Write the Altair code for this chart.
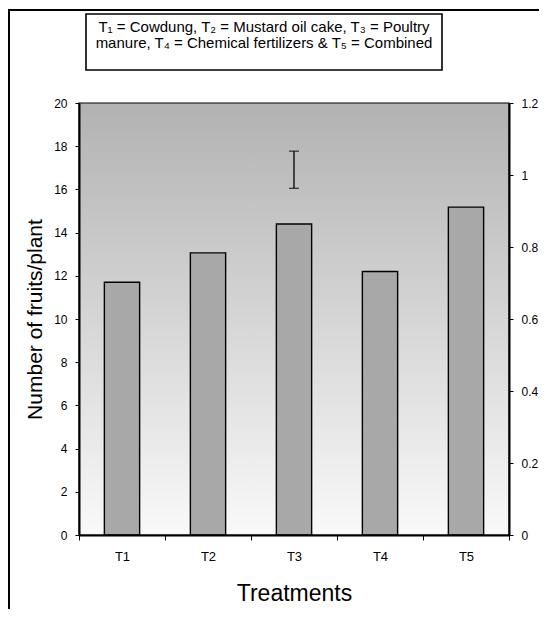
import altair as alt
import pandas as pd

# ---- data ----
treatments = ["T1", "T2", "T3", "T4", "T5"]
fruits = [11.7, 13.06, 14.4, 12.2, 15.18]
err_treat = ["T3"]
err_lo = [16.05]
err_hi = [17.77]
right_ticks = [0, 0.2, 0.4, 0.6, 0.8, 1.0, 1.2]
left_ticks = [0, 2, 4, 6, 8, 10, 12, 14, 16, 18, 20]
legend_line1 = "T\u2081 = Cowdung,  T\u2082 = Mustard oil cake,  T\u2083 = Poultry"
legend_line2 = "manure, T\u2084 = Chemical fertilizers & T\u2085 = Combined"

W, H = 430, 432
FONT = "Liberation Sans"

bars_df = pd.DataFrame({"Treatment": treatments, "Fruits": fruits})
err_df = pd.DataFrame({"Treatment": err_treat, "lo": err_lo, "hi": err_hi})
right_df = pd.DataFrame({"r": [right_ticks[0], right_ticks[-1]]})
one = pd.DataFrame({"k": [0]})

xscale = alt.Scale(domain=treatments, paddingInner=0, paddingOuter=0)
yscale = alt.Scale(domain=[0, 20], nice=False)

bg = alt.Chart(one).mark_rect(
    fill=alt.LinearGradient(
        gradient="linear",
        stops=[alt.GradientStop(color="#b2b2b2", offset=0),
               alt.GradientStop(color="#f9f9f9", offset=1)],
        x1=0, x2=0, y1=0, y2=1),
    stroke="black", strokeWidth=1.2,
).encode(x=alt.value(0), x2=alt.value(W), y=alt.value(0), y2=alt.value(H))

bars = alt.Chart(bars_df).mark_bar(
    fill="#a8a8a8", stroke="black", strokeWidth=1.4,
    width=alt.RelativeBandSize(0.41),
).encode(
    x=alt.X("Treatment:N", scale=xscale, sort=treatments,
            axis=alt.Axis(title="Treatments", tickBand="extent", labelAngle=0,
                          labelFont=FONT, labelFontSize=13, labelColor="black",
                          tickColor="black", tickSize=5, labelPadding=10,
                          domainColor="black", domainWidth=2, zindex=1,
                          titleFont=FONT, titleFontSize=23, titleFontWeight="normal",
                          titleColor="black", titleY=65, titleBaseline="alphabetic")),
    y=alt.Y("Fruits:Q", scale=yscale,
            axis=alt.Axis(title="Number of fruits/plant", values=left_ticks, grid=False,
                          labelFont=FONT, labelFontSize=12, labelColor="black",
                          tickColor="black", tickSize=4, labelPadding=8,
                          domainColor="black", domainWidth=2, zindex=1,
                          titleFont=FONT, titleFontSize=21, titleFontWeight="normal",
                          titleColor="black", titleAngle=-90, titleX=-38, titleY=H / 2,
                          titleAlign="center", titleBaseline="alphabetic")),
)

err_rule = alt.Chart(err_df).mark_rule(color="black", strokeWidth=1.3).encode(
    x=alt.X("Treatment:N", scale=xscale, sort=treatments),
    y=alt.Y("lo:Q", scale=yscale), y2="hi:Q")
err_lo_tick = alt.Chart(err_df).mark_tick(color="black", size=10, thickness=1.3).encode(
    x=alt.X("Treatment:N", scale=xscale, sort=treatments), y=alt.Y("lo:Q", scale=yscale))
err_hi_tick = alt.Chart(err_df).mark_tick(color="black", size=10, thickness=1.3).encode(
    x=alt.X("Treatment:N", scale=xscale, sort=treatments), y=alt.Y("hi:Q", scale=yscale))

# decorations: outer frame and the treatment key box
frame_top = alt.Chart(one).mark_rule(color="black", strokeWidth=2).encode(
    x=alt.value(-70), x2=alt.value(W + 60), y=alt.value(-93), y2=alt.value(-93))
frame_left = alt.Chart(one).mark_rule(color="black", strokeWidth=2).encode(
    x=alt.value(-70), x2=alt.value(-70), y=alt.value(-94), y2=alt.value(H + 100))
key_box = alt.Chart(one).mark_rect(fill="white", stroke="black", strokeWidth=1.6).encode(
    x=alt.value(7), x2=alt.value(363), y=alt.value(-89), y2=alt.value(-33))
key_text1 = alt.Chart(one).mark_text(
    font=FONT, fontSize=15, align="center", baseline="alphabetic", color="black",
).encode(x=alt.value(185), y=alt.value(-71), text=alt.value(legend_line1))
key_text2 = alt.Chart(one).mark_text(
    font=FONT, fontSize=15, align="center", baseline="alphabetic", color="black",
).encode(x=alt.value(185), y=alt.value(-55), text=alt.value(legend_line2))

left = alt.layer(bg, bars, err_rule, err_lo_tick, err_hi_tick,
                 frame_top, frame_left, key_box, key_text1, key_text2)

right = alt.Chart(right_df).mark_point(opacity=0).encode(
    y=alt.Y("r:Q", scale=alt.Scale(domain=[0, 1.2], nice=False),
            axis=alt.Axis(orient="right", title=None, values=right_ticks, format="~g",
                          grid=False, labelFont=FONT, labelFontSize=12, labelColor="black",
                          tickColor="black", tickSize=4, labelPadding=8,
                          domainColor="black", domainWidth=2, zindex=1)))

chart = alt.layer(left, right).resolve_scale(y="independent").properties(
    width=W, height=H,
    autosize=alt.AutoSizeParams(type="none"),
    padding={"left": 71, "top": 95, "right": 30, "bottom": 74},
    background="white",
).configure_view(stroke=None)

chart.save("out.html", embed_options={"renderer": "svg", "actions": False})
